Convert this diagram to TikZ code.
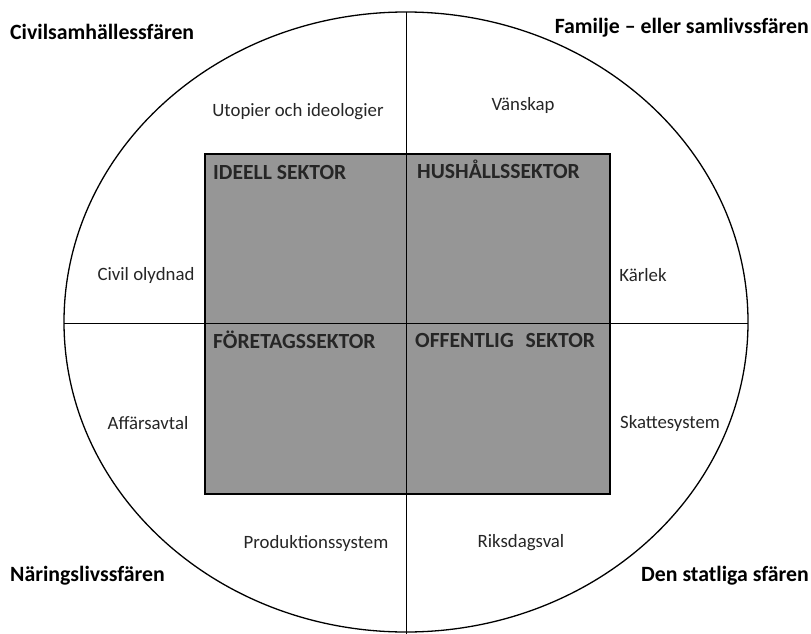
\documentclass[tikz,border=0pt]{standalone}
\usepackage{fontspec}
\setmainfont{Carlito}
\begin{document}
\begin{tikzpicture}[x=1pt,y=-1pt,
  sphere/.style={font=\fontsize{21.8}{24}\selectfont\bfseries, inner sep=0pt},
  sector/.style={font=\fontsize{21.6}{24}\selectfont\bfseries, inner sep=0pt, anchor=west, text=black!85},
  lab/.style={font=\fontsize{18.8}{21}\selectfont, inner sep=0pt, text=black!85},
  box/.style={fill={rgb,255:red,150;green,150;blue,150}, draw=black, line width=1.6pt}]
\useasboundingbox (0,0) rectangle (811,634);
\fill[white] (0,0) rectangle (811,634);
% ellipse
\draw[line width=1.3pt] (406,322) ellipse [x radius=342, y radius=310];
% sector box
\node[box, minimum width=405pt, minimum height=340pt, inner sep=0pt] (box) at (407.5,324) {};
% axes
\coordinate (top) at (406,12);
\coordinate (bot) at (406,634);
\coordinate (lft) at (64,323);
\coordinate (rgt) at (748,323);
\draw[line width=1pt] (top) -- (bot);
\draw[line width=1pt] (lft) -- (rgt);
% sector labels
\node[sector] (ideell) at (213,172) {IDEELL SEKTOR};
\node[sector] (hush) at (417,169) {HUSHÅLLSSEKTOR};
\node[sector] (foret) at (213,340) {FÖRETAGSSEKTOR};
\node[sector] (off) at (415,340) {OFFENTLIG\hspace{0.55em}SEKTOR};
% sphere labels
\node[sphere, anchor=west] (civ) at (10,32) {Civilsamhällessfären};
\node[sphere, anchor=east] (fam) at (809,28) {Familje – eller samlivssfären};
\node[sphere, anchor=west] (nar) at (10,576) {Näringslivssfären};
\node[sphere, anchor=east] (sta) at (809,576) {Den statliga sfären};
% inner labels
\node[lab] (uto) at (298,112) {Utopier och ideologier};
\node[lab] (van) at (523,105) {Vänskap};
\node[lab] (civo) at (146,275) {Civil olydnad};
\node[lab] (kar) at (643,275) {Kärlek};
\node[lab] (aff) at (148,423) {Affärsavtal};
\node[lab] (ska) at (670,423) {Skattesystem};
\node[lab] (pro) at (316,543) {Produktionssystem};
\node[lab] (rik) at (521,543) {Riksdagsval};
\end{tikzpicture}
\end{document}
